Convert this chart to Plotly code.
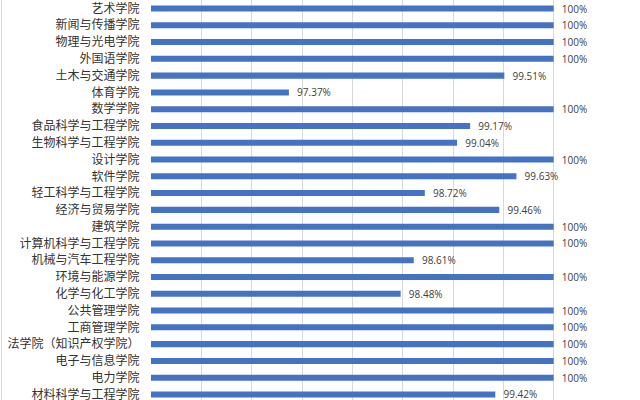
import plotly.graph_objects as go

categories = [
    "艺术学院", "新闻与传播学院", "物理与光电学院", "外国语学院", "土木与交通学院",
    "体育学院", "数学学院", "食品科学与工程学院", "生物科学与工程学院", "设计学院",
    "软件学院", "轻工科学与工程学院", "经济与贸易学院", "建筑学院", "计算机科学与工程学院",
    "机械与汽车工程学院", "环境与能源学院", "化学与化工学院", "公共管理学院", "工商管理学院",
    "法学院（知识产权学院）", "电子与信息学院", "电力学院", "材料科学与工程学院",
]
values = [
    100, 100, 100, 100, 99.51,
    97.37, 100, 99.17, 99.04, 100,
    99.63, 98.72, 99.46, 100, 100,
    98.61, 100, 98.48, 100, 100,
    100, 100, 100, 99.42,
]
labels = [f"{v:g}%" for v in values]

W, H = 640, 400
ML, MR = 151, 36
PW = W - ML - MR

fig = go.Figure(go.Bar(
    x=values, y=categories, orientation="h",
    base=0,
    marker=dict(color="#4472C4", line=dict(width=0)),
    width=0.36,
    text=labels, textposition="outside", cliponaxis=False,
    constraintext="none",
    textfont=dict(family="Open Sans", size=10, color="#404040"),
    texttemplate="  %{text}",
))

fig.update_layout(
    width=W, height=H,
    margin=dict(l=ML, r=MR, t=0, b=0, pad=0, autoexpand=False),
    paper_bgcolor="white", plot_bgcolor="white",
    showlegend=False,
    xaxis=dict(range=[96, 100.5], dtick=0.5, tick0=96, showgrid=True,
               gridcolor="#D9D9D9", gridwidth=1, zeroline=False,
               showticklabels=False, showline=False, automargin=False),
    yaxis=dict(type="category", range=[23.33, -0.507], showgrid=False,
               ticks="outside", ticklen=8, tickcolor="rgba(0,0,0,0)",
               tickfont=dict(family="Noto Sans CJK SC", size=12, color="#333333"),
               showline=False, automargin=False),
    shapes=[dict(type="line", xref="paper", yref="paper",
                 x0=(1.5 - ML) / PW, x1=(1.5 - ML) / PW, y0=0, y1=1,
                 line=dict(color="#D9D9D9", width=1))],
)

fig.write_html("out.html", config={"displayModeBar": False},
               post_script="document.body.style.margin='0';")
